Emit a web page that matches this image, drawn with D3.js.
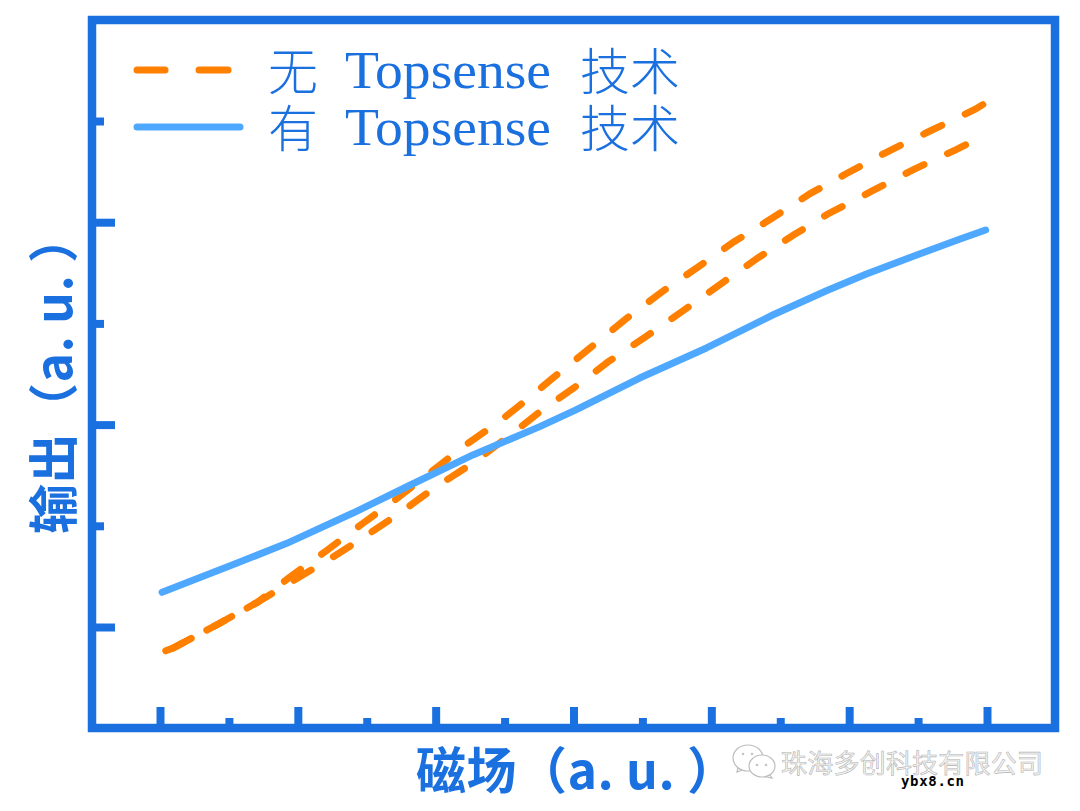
<!DOCTYPE html>
<html lang="en">
<head>
    <meta charset="UTF-8">
    <title>Topsense output vs field</title>
    <script src="https://d3js.org/d3.v7.min.js"></script>
    <style>
        html, body { margin: 0; padding: 0; background: #fff; }
        svg { display: block; }
    </style>
</head>
<body>
    <div id="chart"></div>

    <script>
        // Values (field and output in arbitrary units)
        const withX = [0.03, 1.11, 1.84, 2.80, 3.58, 4.54, 5.51, 6.02, 6.96, 7.93, 8.89, 9.67, 10.25, 10.98, 11.61, 11.98];
        const withY = [0.343, 0.629, 0.827, 1.126, 1.386, 1.70, 1.98, 2.14, 2.46, 2.757, 3.083, 3.323, 3.488, 3.676, 3.834, 3.923];

        const upperX = [0, 0.19, 0.82, 1.42, 1.89, 2.41, 2.95, 3.41, 3.94, 4.40, 4.90, 5.30, 5.70, 6.24, 6.79, 7.30, 7.80, 8.33, 8.88, 9.44, 9.95, 10.49, 11.12, 11.83, 12];
        const upperY = [-0.257, -0.208, 0.02, 0.247, 0.497, 0.751, 1.028, 1.255, 1.535, 1.782, 2.019, 2.233, 2.46, 2.757, 3.06, 3.32, 3.554, 3.807, 4.039, 4.285, 4.476, 4.674, 4.884, 5.116, 5.188];

        const lowerX = [0, 0.19, 0.82, 1.42, 1.91, 2.44, 2.94, 3.50, 3.96, 4.54, 5.12, 5.51, 6.02, 6.50, 7.05, 7.59, 8.17, 8.68, 9.21, 9.69, 10.34, 10.94, 11.56, 12];
        const lowerY = [-0.257, -0.208, 0.02, 0.247, 0.448, 0.662, 0.879, 1.136, 1.364, 1.62, 1.917, 2.125, 2.37, 2.619, 2.869, 3.125, 3.406, 3.649, 3.88, 4.081, 4.311, 4.523, 4.72, 4.87];

        const xMajor = [0, 2, 4, 6, 8, 10, 12];
        const xMinor = [1, 3, 5, 7, 9, 11];
        const yMajor = [0, 2, 4];
        const yMinor = [1, 3, 5];

        const legendTitles = ["无", "有"];
        const legendMiddle = "Topsense";
        const legendEnd = "技术";
        const xTitle = "磁场";
        const yTitle = "输出";
        const unitText = "（a. u. ）";
        const watermark = "珠海多创科技有限公司";
        const siteMark = "ybx8.cn";

        const BLUE = "#1b70e0", ORANGE = "#ff8000", LIGHT = "#4fa8ff";
        const width = 1080, height = 811;

        const svg = d3.select("#chart").append("svg")
            .attr("width", width)
            .attr("height", height);

        // plot frame runs 92..1055 / 20..728
        const frame = {left: 92, right: 1055, top: 20, bottom: 728};

        const xScale = d3.scaleLinear().domain([0, 12]).range([160, 987]);
        const yScale = d3.scaleLinear().domain([0, 5]).range([627, 121]);

        const toPairs = (xs, ys) => xs.map((x, i) => [x, ys[i]]);
        const line = d3.line().x(d => xScale(d[0])).y(d => yScale(d[1]));

        function drawAxis(axis, transform) {
            const g = svg.append("g").attr("transform", transform).call(axis);
            g.select(".domain").remove();
            g.selectAll(".tick text").remove();
            g.selectAll(".tick line").attr("stroke", BLUE).attr("stroke-width", 8);
        }

        // ticks point into the plot, no tick labels in the original
        drawAxis(d3.axisBottom(xScale).tickValues(xMajor).tickSize(-21).tickFormat(""), `translate(0,${frame.bottom})`);
        drawAxis(d3.axisBottom(xScale).tickValues(xMinor).tickSize(-10).tickFormat(""), `translate(0,${frame.bottom})`);
        drawAxis(d3.axisLeft(yScale).tickValues(yMajor).tickSize(-23).tickFormat(""), `translate(${frame.left},0)`);
        drawAxis(d3.axisLeft(yScale).tickValues(yMinor).tickSize(-12).tickFormat(""), `translate(${frame.left},0)`);

        svg.append("rect")
            .attr("x", frame.left).attr("y", frame.top)
            .attr("width", frame.right - frame.left).attr("height", frame.bottom - frame.top)
            .attr("fill", "none")
            .attr("stroke", BLUE)
            .attr("stroke-width", 8.5);

        // orange branches: dashes overlap near the low end like the original
        svg.append("path")
            .datum(toPairs(upperX, upperY).reverse())
            .attr("d", line)
            .attr("fill", "none")
            .attr("stroke", ORANGE)
            .attr("stroke-width", 7)
            .attr("stroke-linecap", "round")
            .attr("stroke-dasharray", "20 26")
            .attr("stroke-dashoffset", -5);

        svg.append("path")
            .datum(toPairs(lowerX, lowerY).reverse())
            .attr("d", line)
            .attr("fill", "none")
            .attr("stroke", ORANGE)
            .attr("stroke-width", 7)
            .attr("stroke-linecap", "round")
            .attr("stroke-dasharray", "20 26")
            .attr("stroke-dashoffset", -24);

        svg.append("path")
            .datum(toPairs(withX, withY))
            .attr("d", line)
            .attr("fill", "none")
            .attr("stroke", LIGHT)
            .attr("stroke-width", 7)
            .attr("stroke-linecap", "round")
            .attr("stroke-linejoin", "round");

        // legend
        const legendY = [90, 147];
        const legendKeyY = [70, 127];
        svg.append("line")
            .attr("x1", 137).attr("x2", 165)
            .attr("y1", legendKeyY[0]).attr("y2", legendKeyY[0])
            .attr("stroke", ORANGE).attr("stroke-width", 7).attr("stroke-linecap", "round");
        svg.append("line")
            .attr("x1", 199).attr("x2", 228)
            .attr("y1", legendKeyY[0]).attr("y2", legendKeyY[0])
            .attr("stroke", ORANGE).attr("stroke-width", 7).attr("stroke-linecap", "round");
        svg.append("line")
            .attr("x1", 137).attr("x2", 240)
            .attr("y1", legendKeyY[1]).attr("y2", legendKeyY[1])
            .attr("stroke", LIGHT).attr("stroke-width", 7).attr("stroke-linecap", "round");

        legendTitles.forEach((t, i) => {
            const g = svg.append("g").attr("fill", BLUE);
            g.append("text").attr("x", 268).attr("y", legendY[i])
                .style("font", "200 50px 'Noto Sans CJK SC'").text(t);
            g.append("text").attr("x", 345).attr("y", legendY[i] - 2)
                .attr("textLength", 206).attr("lengthAdjust", "spacingAndGlyphs")
                .style("font", "53px 'Liberation Serif'").text(legendMiddle);
            g.append("text").attr("x", 580).attr("y", legendY[i])
                .style("font", "200 50px 'Noto Sans CJK SC'").text(legendEnd);
        });

        // axis titles
        const titleFont = "bold 50px 'Noto Sans CJK SC'";
        svg.append("text").attr("x", 416).attr("y", 789)
            .attr("fill", BLUE).style("font", titleFont)
            .attr("textLength", 321).text(xTitle + unitText);
        svg.append("text")
            .attr("transform", "translate(72,534) rotate(-90)")
            .attr("fill", BLUE).style("font", titleFont)
            .attr("textLength", 321).text(yTitle + unitText);

        // watermark bottom right
        const mark = svg.append("g").attr("fill", "#fff").attr("stroke", "#bdbdbd").attr("stroke-width", 1.2);
        mark.append("path").attr("d", "M738,768 L737,772 L745,769Z");
        mark.append("ellipse").attr("cx", 748).attr("cy", 758).attr("rx", 15).attr("ry", 13);
        mark.append("path").attr("d", "M769,774 L772,778 L763,776Z");
        mark.append("ellipse").attr("cx", 762).attr("cy", 766).attr("rx", 13).attr("ry", 11);
        svg.append("g").attr("fill", "#c4c4c4").selectAll("circle")
            .data([[743, 754], [752, 754], [757, 765], [766, 765]])
            .join("circle")
            .attr("cx", d => d[0]).attr("cy", d => d[1]).attr("r", 1.3);
        svg.append("text").attr("x", 781).attr("y", 773)
            .attr("fill", "#f4f4f4").attr("stroke", "#b5b5b5").attr("stroke-width", 0.6)
            .style("font", "26px 'Noto Sans CJK SC'").attr("textLength", 262).text(watermark);
        svg.append("text").attr("x", 901).attr("y", 786)
            .attr("fill", "#000")
            .style("font", "bold 14px 'DejaVu Sans Mono'").attr("textLength", 63).text(siteMark);
    </script>
</body>
</html>
